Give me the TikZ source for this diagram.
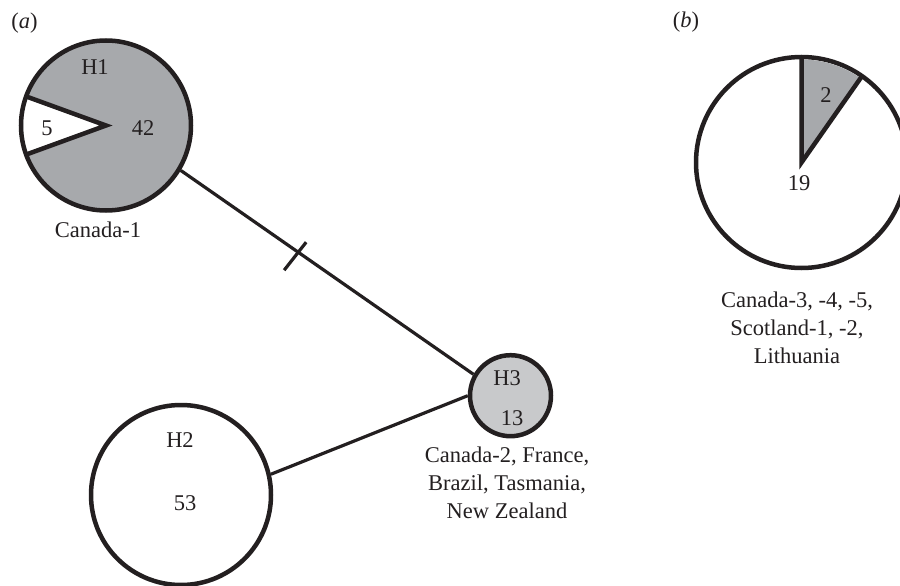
\documentclass[tikz,border=0pt]{standalone}
\usepackage{fontspec}
\setmainfont{Liberation Serif}
\usetikzlibrary{calc}
\definecolor{ink}{HTML}{231F20}
\definecolor{darkgray}{HTML}{A7A9AC}
\definecolor{lightgray}{HTML}{C8C9CB}
\tikzset{
  x=1pt, y=1pt,
  hap/.style={circle, draw=ink, line width=4.5pt, inner sep=0pt, minimum size=#1},
  link/.style={draw=ink, line width=3.2pt},
  wedgeedge/.style={draw=ink, line width=4.5pt, line join=miter},
  txt/.style={text=ink, inner sep=0pt, font=\fontsize{22.5}{28}\selectfont},
  lbl/.style={txt, align=center, anchor=north},
}
\begin{document}
\begin{tikzpicture}
\useasboundingbox (0,0) rectangle (900,-586);
\begin{scope}
\clip (0,0) rectangle (900,-586);
% H1
\node[hap=170pt, fill=darkgray] (H1) at (106,-125.5) {};
\fill[white] (H1.center) -- ++(160:82.5) arc[start angle=160, end angle=200, radius=82.5] -- cycle;
\draw[wedgeedge] ($(H1.center)+(160:85)$) -- (H1.center) -- ($(H1.center)+(200:85)$);
% H2
\node[hap=180pt, fill=white] (H2) at (181,-495) {};
% H3
\node[hap=81pt, fill=lightgray] (H3) at (510.5,-395.7) {};
% pie b
\node[hap=211pt, fill=white] (PB) at (801.5,-162.5) {};
\fill[darkgray] (PB.center) -- ++(55:103) arc[start angle=55, end angle=90, radius=103] -- cycle;
\draw[wedgeedge] ($(PB.center)+(55:105.5)$) -- (PB.center) -- ($(PB.center)+(90:105.5)$);
\end{scope}
% connectors
\draw[link] (H1.-31) -- (H3.150) coordinate[pos=0.401] (tk);
\draw[link] (H2.13.5) -- (H3.180);
\draw[link] ($(tk)+(-14,-18)$) -- ($(tk)+(8,10)$);
% texts
\node[txt] (la) at (24.5,-23) {(\textit{a})};
\node[txt] (lb) at (686,-22) {(\textit{b})};
\node[txt] (t1) at (95,-67) {H1};
\node[txt] (t5) at (47,-128) {5};
\node[txt] (t42) at (143,-128) {42};
\node[txt] (c1) at (98,-230) {Canada-1};
\node[txt] (t2h) at (180,-440) {H2};
\node[txt] (t53) at (185,-503) {53};
\node[txt] (t3h) at (507,-378) {H3};
\node[txt] (t13) at (512,-418) {13};
\node[lbl] (c2) at (507,-447) {Canada-2, France,\\Brazil, Tasmania,\\New Zealand};
\node[txt] (t2) at (826,-95) {2};
\node[txt] (t19) at (799,-183) {19};
\node[lbl] (c3) at (797,-292) {Canada-3, -4, -5,\\Scotland-1, -2,\\Lithuania};
\end{tikzpicture}
\end{document}
